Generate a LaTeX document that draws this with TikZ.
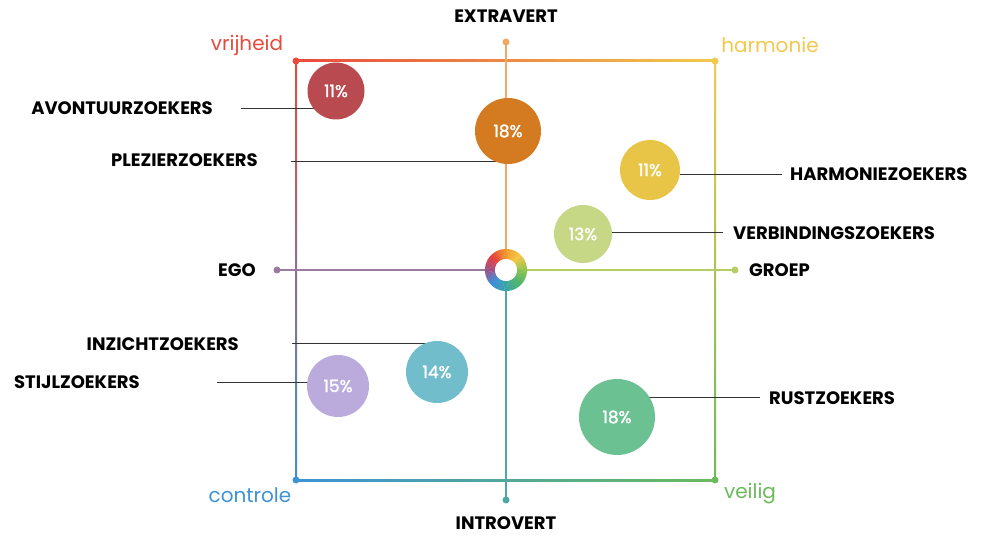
\documentclass[tikz,border=0pt]{standalone}
\usepackage{fontspec}
\setmainfont{Poppins}
\newfontfamily\pctfont{Poppins}[FakeBold=1.5]
\begin{document}
\begin{tikzpicture}[x=1pt,y=1pt,
  lbl/.style={font=\fontsize{18}{18}\selectfont\bfseries, text=black, inner sep=0pt},
  corner/.style={font=\fontsize{20}{20}\selectfont, inner sep=0pt},
  pct/.style={circle, inner sep=0pt, text=white, font=\pctfont\fontsize{17}{17}\selectfont},
  lead/.style={draw=black!80, line width=0.9pt},
  dotc/.style={circle, inner sep=0pt, minimum size=7pt}]
\definecolor{cR}{HTML}{E84B3C}
\definecolor{cO}{HTML}{F08A3E}
\definecolor{cY}{HTML}{F2C94C}
\definecolor{cP}{HTML}{8E6FB0}
\definecolor{cB}{HTML}{3C93D6}
\definecolor{cT}{HTML}{3FA6A0}
\definecolor{cYG}{HTML}{A8C84E}
\definecolor{cG}{HTML}{6BBA5B}
\definecolor{axO}{HTML}{EFA866}
\definecolor{axT}{HTML}{4AA9A1}
\definecolor{axP}{HTML}{9C7BA0}
\definecolor{axG}{HTML}{B5CD62}
% ring colours
\definecolor{rP}{HTML}{A0508A}
\definecolor{rB}{HTML}{3A8FD8}
\definecolor{rT}{HTML}{3AA5A5}
\definecolor{rG}{HTML}{4DB36B}
\definecolor{rYG}{HTML}{8DC44E}
\definecolor{rY}{HTML}{F5C842}
\definecolor{rO}{HTML}{F39A2B}
\definecolor{rR}{HTML}{E8413A}
% bubbles
\definecolor{b1}{HTML}{B84A50}
\definecolor{b2}{HTML}{D47B22}
\definecolor{b3}{HTML}{E8C547}
\definecolor{b4}{HTML}{C6D886}
\definecolor{b5}{HTML}{72BDCB}
\definecolor{b6}{HTML}{BBABDD}
\definecolor{b7}{HTML}{6CC193}

\fill[white] (0,0) rectangle (991,-537);
\useasboundingbox (0,0) rectangle (991,-537);

% square edges
\shade[left color=cR, middle color=cO, right color=cY] (296,-60) rectangle (715,-62);
\shade[left color=cB, middle color=cT, right color=cG] (296,-479) rectangle (715,-481);
\shade[top color=cR, middle color=cP, bottom color=cB] (295,-61) rectangle (297,-480);
\shade[top color=cY, middle color=cYG, bottom color=cG] (714,-61) rectangle (716,-480);

% corner dots
\node[dotc, fill=cR] (ctl) at (296,-61) {};
\node[dotc, fill=cY] (ctr) at (715,-61) {};
\node[dotc, fill=cB] (cbl) at (296,-480) {};
\node[dotc, fill=cG] (cbr) at (715,-480) {};

% axes
\coordinate (c) at (506,-270);
\node[dotc, fill=axO] (atop) at (506,-42) {};
\node[dotc, fill=axT] (abot) at (506,-500) {};
\node[dotc, fill=axP] (aleft) at (277,-270) {};
\node[dotc, fill=axG] (aright) at (735,-270) {};
\draw[axO, line width=1.5pt] (atop.center) -- (c);
\draw[axT, line width=1.5pt] (c) -- (abot.center);
\draw[axP, line width=1.5pt] (aleft.center) -- (c);
\draw[axG, line width=1.5pt] (c) -- (aright.center);

% corner labels
\node[corner, text=cR] (vrij) at (247,-45) {vrijheid};
\node[corner, text=cY] (harm) at (770,-45) {harmonie};
\node[corner, text=cB] (cont) at (250,-495) {controle};
\node[corner, text=cG] (veil) at (750,-494) {veilig};

% axis labels
\node[lbl] (extra) at (506,-16) {EXTRAVERT};
\node[lbl, anchor=base, text depth=0pt] (intro) at (506,-529) {INTROVERT};
\node[lbl, anchor=east] (ego) at (256,-270) {EGO};
\node[lbl, anchor=west] (groep) at (749,-270) {GROEP};

% group labels
\node[lbl, anchor=east] (lavo) at (213,-108) {AVONTUURZOEKERS};
\node[lbl, anchor=east] (lple) at (258,-160) {PLEZIERZOEKERS};
\node[lbl, anchor=west] (lhar) at (790,-174) {HARMONIEZOEKERS};
\node[lbl, anchor=west] (lver) at (733,-233) {VERBINDINGSZOEKERS};
\node[lbl, anchor=east] (linz) at (239,-344) {INZICHTZOEKERS};
\node[lbl, anchor=east] (lsti) at (140,-382) {STIJLZOEKERS};
\node[lbl, anchor=west] (lrus) at (769,-398) {RUSTZOEKERS};

% leader line ends
\coordinate (pavo) at (241,-108);
\coordinate (qavo) at (314,-108);
\coordinate (pple) at (291,-161);
\coordinate (qple) at (506,-161);
\coordinate (phar) at (782,-174);
\coordinate (qhar) at (680,-174);
\coordinate (pver) at (723,-232);
\coordinate (qver) at (612,-232);
\coordinate (pinz) at (292,-343);
\coordinate (qinz) at (437,-343);
\coordinate (psti) at (217,-382);
\coordinate (qsti) at (309,-382);
\coordinate (prus) at (760,-397);
\coordinate (qrus) at (649,-397);
\draw[lead] (pavo) -- (qavo);
\draw[lead] (pple) -- (qple);
\draw[lead] (phar) -- (qhar);
\draw[lead] (pver) -- (qver);
\draw[lead] (pinz) -- (qinz);
\draw[lead] (psti) -- (qsti);
\draw[lead] (prus) -- (qrus);

% bubbles
\node[pct, fill=b1, minimum size=57] (avo) at (336,-91) {11\%};
\node[pct, fill=b2, minimum size=66] (ple) at (508,-131) {18\%};
\node[pct, fill=b3, minimum size=60] (har) at (650,-170) {11\%};
\node[pct, fill=b4, minimum size=58] (ver) at (583,-234) {13\%};
\node[pct, fill=b5, minimum size=62] (inz) at (437,-372) {14\%};
\node[pct, fill=b6, minimum size=62] (sti) at (338,-386) {15\%};
\node[pct, fill=b7, minimum size=76] (rus) at (617,-417) {18\%};

% centre ring
\begin{scope}[shift={(c)}]
\foreach \a/\ca/\cb in {-180/rP/rB, -135/rB/rT, -90/rT/rG, -45/rG/rYG, 0/rYG/rY, 45/rY/rO, 90/rO/rR, 135/rR/rP} {
  \foreach \i in {0,...,8} {
    \pgfmathsetmacro\sa{\a+5*\i}
    \pgfmathsetmacro\ea{\a+5*\i+5.8}
    \pgfmathtruncatemacro\pc{round((\i+0.5)*100/9)}
    \fill[\cb!\pc!\ca] (\sa:21) arc[start angle=\sa, end angle=\ea, radius=21] -- (\ea:11) arc[start angle=\ea, end angle=\sa, radius=11] -- cycle;
  }
}
\fill[white] (0,0) circle[radius=11];
\end{scope}
\node[circle, minimum size=42, inner sep=0pt] (ring) at (c) {};
\end{tikzpicture}
\end{document}
